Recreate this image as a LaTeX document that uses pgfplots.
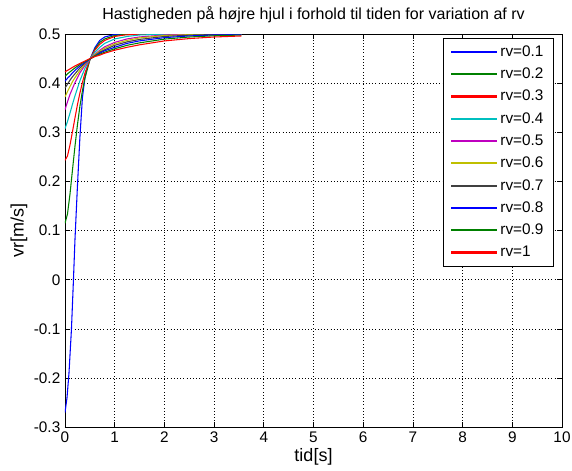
\documentclass[border=0pt]{standalone}
\usepackage{fontspec}
\setmainfont{Liberation Sans}
\usepackage{pgfplots}
\pgfplotsset{compat=1.18}
\definecolor{mb}{rgb}{0,0,1}
\definecolor{mg}{rgb}{0,0.5,0}
\definecolor{mr}{rgb}{1,0,0}
\definecolor{mc}{rgb}{0,0.75,0.75}
\definecolor{mm}{rgb}{0.75,0,0.75}
\definecolor{my}{rgb}{0.75,0.75,0}
\definecolor{mk}{rgb}{0.25,0.25,0.25}
\begin{document}
\begin{tikzpicture}
\useasboundingbox (-48.75pt,-32.6pt) rectangle (380.25pt,320.5pt);
\begin{axis}[
  at={(0,0)}, anchor=south west,
  scale only axis, width=372.75pt, height=295pt,
  xmin=0, xmax=10, ymin=-0.3, ymax=0.5,
  xtick={0,1,...,10}, ytick={-0.3,-0.2,...,0.5},
  yticklabels={-0.3,-0.2,-0.1,0,0.1,0.2,0.3,0.4,0.5},
  /pgf/number format/assume math mode=true,
  tick align=inside, major tick length=4pt,
  tick style={black, line width=0.5pt},
  axis line style={black, line width=0.6pt},
  grid=major, grid style={black, dotted, line width=0.5pt},
  font=\fontsize{11.5}{13.5}\selectfont,
  title={Hastigheden på højre hjul i forhold til tiden for variation af rv},
  title style={font=\fontsize{12}{14}\selectfont, yshift=-1pt},
  xlabel={tid[s]}, ylabel={vr[m/s]},
  xlabel style={font=\fontsize{13.5}{15}\selectfont, yshift=3pt},
  ylabel style={font=\fontsize{13.5}{15}\selectfont, yshift=-2pt},
  every axis plot/.append style={line width=0.8pt},
  legend style={at={(0.982,0.99)}, anchor=north east,
    font=\fontsize{11.5}{13.5}\selectfont, row sep=3.2pt, inner xsep=5pt, inner ysep=3.5pt},
  legend cell align=left,
  legend image code/.code={\draw[#1, line width=1.6pt] (0pt,0pt) -- (34pt,0pt);},
]
\addplot[mb] coordinates {(0,-0.27)(0.04,-0.24)(0.08,-0.19)(0.13,-0.1)(0.17,0)(0.2,0.08)(0.25,0.19)(0.3,0.29)(0.35,0.37)(0.4,0.41)(0.45,0.433)(0.5,0.448)(0.6,0.472)(0.7,0.487)(0.8,0.494)(1,0.499)(1.5,0.5)(3.55,0.5)};
\addlegendentry{rv=0.1}
\addplot[mg] coordinates {(0,0.115)(0.05,0.134)(0.1,0.174)(0.15,0.223)(0.2,0.271)(0.25,0.315)(0.3,0.353)(0.35,0.384)(0.4,0.410)(0.5,0.447)(0.6,0.469)(0.7,0.483)(0.8,0.490)(1,0.497)(1.2,0.499)(1.5,0.5)(3.55,0.5)};
\addlegendentry{rv=0.2}
\addplot[mr] coordinates {(0,0.243)(0.05,0.252)(0.1,0.274)(0.15,0.301)(0.2,0.329)(0.25,0.356)(0.3,0.380)(0.35,0.401)(0.4,0.420)(0.5,0.448)(0.6,0.467)(0.7,0.479)(0.8,0.487)(1,0.495)(1.2,0.498)(1.5,0.4997)(2,0.5)(3.55,0.5)};
\addlegendentry{rv=0.3}
\addplot[mc] coordinates {(0,0.3075)(0.05,0.322)(0.1,0.339)(0.15,0.357)(0.2,0.374)(0.3,0.405)(0.4,0.430)(0.5,0.449)(0.6,0.463)(0.7,0.473)(0.8,0.481)(1,0.490)(1.25,0.495)(1.5,0.498)(2,0.4995)(2.5,0.5)(3.55,0.5)};
\addlegendentry{rv=0.4}
\addplot[mm] coordinates {(0,0.346)(0.05,0.362)(0.1,0.377)(0.15,0.389)(0.2,0.401)(0.3,0.421)(0.4,0.436)(0.5,0.449)(0.6,0.459)(0.7,0.467)(0.8,0.474)(1,0.483)(1.25,0.490)(1.5,0.494)(2,0.498)(2.5,0.4994)(3,0.4998)(3.55,0.4999)};
\addlegendentry{rv=0.5}
\addplot[my] coordinates {(0,0.372)(0.05,0.383)(0.1,0.393)(0.15,0.403)(0.2,0.411)(0.3,0.426)(0.4,0.439)(0.5,0.449)(0.6,0.458)(0.7,0.465)(0.8,0.471)(1,0.480)(1.25,0.487)(1.5,0.492)(2,0.497)(2.5,0.4987)(3,0.4995)(3.55,0.4998)};
\addlegendentry{rv=0.6}
\addplot[mk] coordinates {(0,0.39)(0.05,0.398)(0.1,0.406)(0.15,0.413)(0.2,0.419)(0.3,0.431)(0.4,0.441)(0.5,0.449)(0.6,0.456)(0.7,0.463)(0.8,0.468)(1,0.477)(1.25,0.484)(1.5,0.489)(2,0.495)(2.5,0.4977)(3,0.4989)(3.55,0.4995)};
\addlegendentry{rv=0.7}
\addplot[mb] coordinates {(0,0.404)(0.05,0.410)(0.1,0.415)(0.15,0.421)(0.2,0.426)(0.3,0.435)(0.4,0.442)(0.5,0.449)(0.6,0.455)(0.7,0.461)(0.8,0.466)(1,0.473)(1.25,0.481)(1.5,0.486)(2,0.4926)(2.5,0.4961)(3,0.498)(3.55,0.4989)};
\addlegendentry{rv=0.8}
\addplot[mg] coordinates {(0,0.414)(0.05,0.419)(0.1,0.423)(0.15,0.427)(0.2,0.431)(0.3,0.438)(0.4,0.444)(0.5,0.449)(0.6,0.455)(0.7,0.459)(0.8,0.463)(1,0.470)(1.25,0.477)(1.5,0.482)(2,0.4896)(2.5,0.4939)(3,0.4964)(3.55,0.4979)};
\addlegendentry{rv=0.9}
\addplot[mr] coordinates {(0,0.423)(0.05,0.426)(0.1,0.429)(0.15,0.432)(0.2,0.435)(0.3,0.440)(0.4,0.445)(0.5,0.450)(0.6,0.454)(0.7,0.457)(0.8,0.461)(1,0.467)(1.25,0.473)(1.5,0.478)(2,0.4859)(2.5,0.4907)(3,0.4939)(3.55,0.496)};
\addlegendentry{rv=1}
\end{axis}
\end{tikzpicture}
\end{document}
